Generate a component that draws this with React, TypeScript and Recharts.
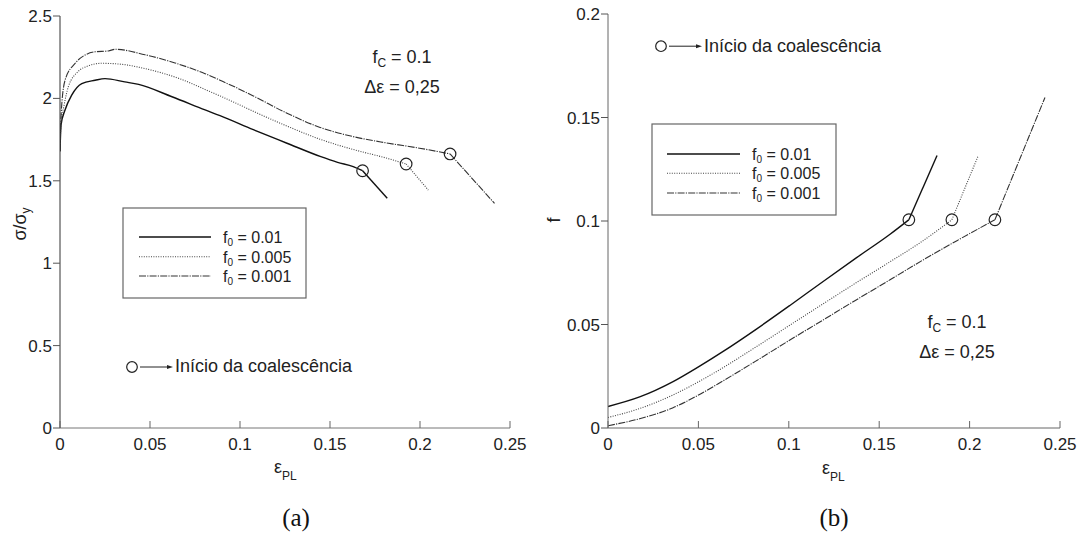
import React from 'react';
import { LineChart, Line, XAxis, YAxis, ReferenceDot } from 'recharts';

// ---------- data ----------
const strainTicks = [0, 0.05, 0.1, 0.15, 0.2, 0.25];
const stressTicks = [0, 0.5, 1, 1.5, 2, 2.5];
const porosityTicks = [0, 0.05, 0.1, 0.15, 0.2];

const seriesLabels = ['0.01', '0.005', '0.001'];

// (a) sigma / sigma_y vs plastic strain
const stressF01 = [
  { e: 0, v: 1.68 }, { e: 0.0006, v: 1.84 }, { e: 0.0028, v: 1.93 }, { e: 0.0065, v: 2.02 },
  { e: 0.0121, v: 2.09 }, { e: 0.0195, v: 2.11 }, { e: 0.025, v: 2.12 }, { e: 0.036, v: 2.1 },
  { e: 0.0437, v: 2.085 }, { e: 0.0622, v: 2.01 }, { e: 0.0806, v: 1.93 }, { e: 0.0889, v: 1.895 },
  { e: 0.1074, v: 1.81 }, { e: 0.1261, v: 1.728 }, { e: 0.1445, v: 1.648 }, { e: 0.1542, v: 1.612 },
  { e: 0.1629, v: 1.586 }, { e: 0.1681, v: 1.561 }, { e: 0.1818, v: 1.394 },
];
const stressF005 = [
  { e: 0, v: 1.68 }, { e: 0.0006, v: 1.86 }, { e: 0.0021, v: 1.95 }, { e: 0.0046, v: 2.07 },
  { e: 0.0102, v: 2.164 }, { e: 0.0156, v: 2.197 }, { e: 0.0232, v: 2.213 }, { e: 0.0341, v: 2.207 },
  { e: 0.0491, v: 2.176 }, { e: 0.0676, v: 2.115 }, { e: 0.0825, v: 2.045 }, { e: 0.0889, v: 2.015 },
  { e: 0.097, v: 1.975 }, { e: 0.1074, v: 1.922 }, { e: 0.1261, v: 1.832 }, { e: 0.1445, v: 1.752 },
  { e: 0.1629, v: 1.69 }, { e: 0.1813, v: 1.638 }, { e: 0.1923, v: 1.602 }, { e: 0.2046, v: 1.444 },
];
const stressF001 = [
  { e: 0, v: 1.68 }, { e: 0.0006, v: 1.9 }, { e: 0.0028, v: 2.11 }, { e: 0.0084, v: 2.213 },
  { e: 0.0139, v: 2.263 }, { e: 0.0195, v: 2.283 }, { e: 0.0269, v: 2.288 }, { e: 0.0306, v: 2.298 },
  { e: 0.0472, v: 2.265 }, { e: 0.0639, v: 2.215 }, { e: 0.0806, v: 2.15 }, { e: 0.0889, v: 2.11 },
  { e: 0.097, v: 2.07 }, { e: 0.1074, v: 2.015 }, { e: 0.1261, v: 1.91 }, { e: 0.1445, v: 1.824 },
  { e: 0.1629, v: 1.768 }, { e: 0.1813, v: 1.73 }, { e: 0.1997, v: 1.698 }, { e: 0.2167, v: 1.663 },
  { e: 0.2414, v: 1.363 },
];
const stressCoalescence = [
  { e: 0.1681, v: 1.561 }, { e: 0.1923, v: 1.602 }, { e: 0.2167, v: 1.663 },
];

// (b) void fraction f vs plastic strain
const porosityF01 = [
  { e: 0, v: 0.0104 }, { e: 0.0175, v: 0.015 }, { e: 0.036, v: 0.0224 }, { e: 0.0498, v: 0.0294 },
  { e: 0.0637, v: 0.037 }, { e: 0.0821, v: 0.0478 }, { e: 0.1006, v: 0.0592 }, { e: 0.119, v: 0.0708 },
  { e: 0.1375, v: 0.0823 }, { e: 0.156, v: 0.0936 }, { e: 0.1664, v: 0.1006 }, { e: 0.182, v: 0.1316 },
];
const porosityF005 = [
  { e: 0, v: 0.0051 }, { e: 0.0175, v: 0.0094 }, { e: 0.036, v: 0.016 }, { e: 0.0498, v: 0.0222 },
  { e: 0.0637, v: 0.0292 }, { e: 0.0821, v: 0.0393 }, { e: 0.1006, v: 0.0497 }, { e: 0.119, v: 0.06 },
  { e: 0.1375, v: 0.0703 }, { e: 0.156, v: 0.0803 }, { e: 0.1743, v: 0.0905 }, { e: 0.1902, v: 0.1006 },
  { e: 0.2048, v: 0.1316 },
];
const porosityF001 = [
  { e: 0, v: 0.0011 }, { e: 0.0175, v: 0.0045 }, { e: 0.036, v: 0.0098 }, { e: 0.0498, v: 0.0158 },
  { e: 0.0637, v: 0.0228 }, { e: 0.0821, v: 0.0325 }, { e: 0.1006, v: 0.0425 }, { e: 0.119, v: 0.0522 },
  { e: 0.1375, v: 0.062 }, { e: 0.156, v: 0.0716 }, { e: 0.1743, v: 0.0812 }, { e: 0.193, v: 0.0905 },
  { e: 0.214, v: 0.1006 }, { e: 0.2417, v: 0.1597 },
];
const porosityCoalescence = [
  { e: 0.1664, v: 0.1006 }, { e: 0.1902, v: 0.1006 }, { e: 0.214, v: 0.1006 },
];

// ---------- styles ----------
const FONT = "'Liberation Sans', Arial, Helvetica, sans-serif";
const SERIF = "'Liberation Serif', 'Times New Roman', serif";
const lineStyles = [
  { stroke: '#111', strokeWidth: 1.4, dash: undefined as string | undefined },
  { stroke: '#444', strokeWidth: 1.1, dash: '1 1.4' },
  { stroke: '#333', strokeWidth: 1.1, dash: '7 1.2 1.2 1.2' },
];

const XTick = (props: any) => {
  const { x, y, payload } = props;
  return (
    <g>
      <line x1={x} x2={x} y1={y - 10} y2={y - 17} stroke="#666" strokeWidth={1} />
      <text x={x} y={y} dy="0.71em" textAnchor="middle" fontSize={17} fill="#222" fontFamily={FONT}>
        {String(payload.value)}
      </text>
    </g>
  );
};

const yTickStyle = { fontSize: 17, fill: '#222', fontFamily: FONT };

const seriesLines = (sets: any[], marks: any[]) =>
  sets.map((d, i) => {
    const c = marks[i];
    const before = d.filter((p: any) => p.e <= c.e);
    const after = d.filter((p: any) => p.e >= c.e);
    const st = lineStyles[i];
    return [
      <Line
        key={`a${i}`} data={before} dataKey="v" type="monotone" dot={false} isAnimationActive={false}
        stroke={st.stroke} strokeWidth={st.strokeWidth} strokeDasharray={st.dash}
      />,
      <Line
        key={`b${i}`} data={after} dataKey="v" type="linear" dot={false} isAnimationActive={false}
        stroke={st.stroke} strokeWidth={st.strokeWidth} strokeDasharray={st.dash} legendType="none"
      />,
    ];
  });

const StressChart = () => (
  <LineChart width={540} height={535} margin={{ top: 16, right: 30, bottom: 77, left: 20 }}>
    <XAxis
      type="number" dataKey="e" domain={[0, 0.25]} ticks={strainTicks} interval={0}
      height={30} tickSize={0} tickMargin={10} tickLine={false}
      axisLine={{ stroke: '#777', strokeWidth: 1 }} tick={<XTick />} allowDataOverflow
    />
    <YAxis
      type="number" domain={[0, 2.5]} ticks={stressTicks} interval={0} width={40}
      tickSize={7} tickMargin={1} axisLine={{ stroke: '#333', strokeWidth: 1 }}
      tickLine={{ stroke: '#555' }} tick={yTickStyle} allowDataOverflow
    />
    {seriesLines([stressF01, stressF005, stressF001], stressCoalescence)}
    {stressCoalescence.map((p, i) => (
      <ReferenceDot key={i} x={p.e} y={p.v} r={5.8} fill="none" stroke="#222" strokeWidth={1.2} />
    ))}
  </LineChart>
);

const PorosityChart = () => (
  <LineChart width={544} height={535} margin={{ top: 14, right: 24, bottom: 77, left: 23 }}>
    <XAxis
      type="number" dataKey="e" domain={[0, 0.25]} ticks={strainTicks} interval={0}
      height={30} tickSize={0} tickMargin={10} tickLine={false}
      axisLine={{ stroke: '#666', strokeWidth: 1 }} tick={<XTick />} allowDataOverflow
    />
    <YAxis
      type="number" domain={[0, 0.2]} ticks={porosityTicks} interval={0} width={45}
      tickSize={7} tickMargin={1} axisLine={{ stroke: '#666', strokeWidth: 1 }}
      tickLine={{ stroke: '#555' }} tick={yTickStyle} allowDataOverflow
    />
    {seriesLines([porosityF01, porosityF005, porosityF001], porosityCoalescence)}
    {porosityCoalescence.map((p, i) => (
      <ReferenceDot key={i} x={p.e} y={p.v} r={5.8} fill="none" stroke="#222" strokeWidth={1.2} />
    ))}
  </LineChart>
);

const LegendBox = ({ x, y, w, h, rows, lineX, textX }: any) => (
  <g>
    <rect x={x} y={y} width={w} height={h} fill="#fff" stroke="#666" strokeWidth={1.2} />
    {seriesLabels.map((lab, i) => (
      <g key={i}>
        <line
          x1={lineX[0]} x2={lineX[1]} y1={rows[i]} y2={rows[i]}
          stroke={lineStyles[i].stroke} strokeWidth={lineStyles[i].strokeWidth}
          strokeDasharray={lineStyles[i].dash}
        />
        <text x={textX} y={rows[i] + 6} fontSize={16} fill="#222" fontFamily={FONT}>
          f<tspan fontSize={10} dy={3}>0</tspan><tspan dy={-3}>{` = ${lab}`}</tspan>
        </text>
      </g>
    ))}
  </g>
);

const Coalescence = ({ cx, cy, x2, textX, baseline }: any) => (
  <g>
    <circle cx={cx} cy={cy} r={5.3} fill="none" stroke="#222" strokeWidth={1.2} />
    <line x1={cx + 8} x2={x2 - 4} y1={cy} y2={cy} stroke="#222" strokeWidth={1} />
    <polygon points={`${x2},${cy} ${x2 - 6},${cy - 2} ${x2 - 6},${cy + 2}`} fill="#222" />
    <text x={textX} y={baseline} fontSize={18} fill="#222" fontFamily={FONT}>Início da coalescência</text>
  </g>
);

const Params = ({ cx, y1, y2 }: any) => (
  <g fontFamily={FONT} fontSize={18} fill="#222">
    <text x={cx} y={y1} textAnchor="middle">
      f<tspan fontSize={12} dy={4}>C</tspan><tspan dy={-4}> = 0.1</tspan>
    </text>
    <text x={cx} y={y2} textAnchor="middle">Δε = 0,25</text>
  </g>
);

export default function App() {
  return (
    <div style={{ position: 'absolute', left: 0, top: 0, width: 1084, height: 535, background: '#fff' }}>
      <div style={{ position: 'absolute', left: 0, top: 0 }}>
        <StressChart />
      </div>
      <div style={{ position: 'absolute', left: 540, top: 0 }}>
        <PorosityChart />
      </div>
      <svg
        width={1084} height={535}
        style={{ position: 'absolute', left: 0, top: 0, pointerEvents: 'none' }}
      >
        {/* axis titles (a) */}
        <text transform="translate(25.5,224) rotate(-90)" textAnchor="middle" fontSize={18} fill="#222" fontFamily={FONT}>
          σ/σ<tspan fontSize={12} dy={4}>y</tspan>
        </text>
        <text x={274} y={473} fontSize={18} fill="#222" fontFamily={FONT}>
          ε<tspan fontSize={12} dy={7}>PL</tspan>
        </text>
        <text x={296} y={526} textAnchor="middle" fontSize={25} fill="#111" fontFamily={SERIF}>(a)</text>

        {/* axis titles (b) */}
        <text transform="translate(560,220) rotate(-90)" textAnchor="middle" fontSize={18} fill="#222" fontFamily={FONT}>f</text>
        <text x={822} y={474} fontSize={18} fill="#222" fontFamily={FONT}>
          ε<tspan fontSize={12} dy={7}>PL</tspan>
        </text>
        <text x={834} y={526} textAnchor="middle" fontSize={25} fill="#111" fontFamily={SERIF}>(b)</text>

        {/* annotations (a) */}
        <Params cx={402} y1={63} y2={93} />
        <LegendBox x={123} y={208} w={183} h={90} rows={[237, 256.7, 276]} lineX={[139, 211]} textX={223} />
        <Coalescence cx={132} cy={367} x2={173} textX={175} baseline={372} />

        {/* annotations (b) */}
        <Params cx={957} y1={328} y2={358} />
        <LegendBox x={652} y={124} w={184} h={91} rows={[154, 173.3, 193]} lineX={[667, 740]} textX={752} />
        <Coalescence cx={661} cy={46.2} x2={702} textX={704} baseline={52.3} />
      </svg>
    </div>
  );
}
